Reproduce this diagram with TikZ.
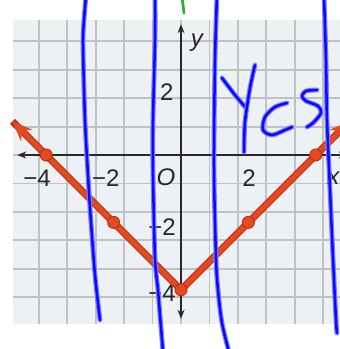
\documentclass[tikz,border=0pt]{standalone}
\usepackage{fontspec}
\setmainfont{Liberation Sans}
\usetikzlibrary{arrows.meta}
\definecolor{gridfill}{RGB}{237,241,244}
\definecolor{gridline}{RGB}{190,194,196}
\definecolor{axiscol}{RGB}{40,40,40}
\definecolor{redline}{RGB}{228,74,34}
\definecolor{reddark}{RGB}{196,48,22}
\definecolor{inkblue}{RGB}{10,10,255}
\definecolor{halo}{RGB}{125,125,255}
\definecolor{inkgreen}{RGB}{40,180,50}
\tikzset{
  bluestroke/.style={preaction={draw=halo,line width=4.8pt,line cap=round,line join=round},
    draw=inkblue,line width=2.5pt,line cap=round,line join=round},
  lbl/.style={inner sep=0pt,font=\fontsize{24}{24}\selectfont,text=black!85},
  ilbl/.style={lbl,font=\fontsize{24}{24}\selectfont\itshape},
  dot/.style={fill=redline,draw=reddark,line width=1pt},
  axisarrow/.style={line width=1.3pt,draw=axiscol,{Stealth[length=9pt,width=7pt]}-{Stealth[length=9pt,width=7pt]}}
}
\begin{document}
\begin{tikzpicture}[x=1pt,y=-1pt]
\useasboundingbox (0,0) rectangle (340,349);
\clip (0,0) rectangle (340,349);
\fill[white] (0,0) rectangle (340,349);
\begin{scope}[shift={(181,155)},x=33.7pt,y=33.7pt]
  \fill[gridfill] (-5,-5) rectangle (5,4);
  \draw[gridline,line width=1.9pt] (-5,-5) grid (5,4);
  % axes
  \coordinate (xl) at (-4.86,0); \coordinate (xr) at (4.95,0);
  \coordinate (yt) at (0,3.88); \coordinate (yb) at (0,-4.86);
  \draw[axisarrow] (xl) -- (xr);
  \draw[axisarrow] (yb) -- (yt);
  % labels
  \node[lbl] (xm4) at (-4.27,-0.68) {−4};
  \node[lbl] (xm2) at (-2.23,-0.68) {−2};
  \node[ilbl] (orig) at (-0.45,-0.65) {O};
  \node[lbl] (xp2) at (2.02,-0.68) {2};
  \node[ilbl] (xlab) at (4.52,-0.68) {x};
  \node[lbl] (yp2) at (-0.42,1.87) {2};
  \node[lbl] (ym2) at (-0.56,-2.14) {−2};
  \node[lbl] (ym4) at (-0.56,-4.09) {−4};
  \node[ilbl] (ylab) at (0.47,3.32) {y};
  % graph y = |x| - 4
  \coordinate (p1) at (-4,0); \coordinate (p2) at (-2,-2); \coordinate (p3) at (0,-4);
  \coordinate (p4) at (2,-2); \coordinate (p5) at (4,0);
  \coordinate (el) at (-5,1); \coordinate (er) at (5,1);
  \draw[reddark,line width=7pt,line join=round] (el) -- (p3) -- (er);
  \draw[redline,line width=4.6pt,line join=round,{Stealth[length=20pt,width=16pt]}-{Stealth[length=20pt,width=16pt]}] (el) -- (p3) -- (er);
  \foreach \p in {p1,p2,p3,p4,p5} \filldraw[dot] (\p) circle (6pt);
\end{scope}
% handwriting
\draw[bluestroke] plot[smooth] coordinates {(86,-4) (84,20) (83,45) (85,120) (88,175) (90,208) (95,275) (100,320)};
\draw[bluestroke] plot[smooth] coordinates {(155,-4) (155,40) (153,120) (153,175) (155,258) (158,290) (160,315) (163,352)};
\draw[bluestroke] plot[smooth] coordinates {(217,-4) (215,60) (214,167) (216,258) (218,290) (222,323) (229,352)};
\draw[bluestroke] plot[smooth] coordinates {(324,-4) (326,60) (327,120) (330,190) (333,258) (336,320) (337,333)};
\draw[bluestroke] plot[smooth] coordinates {(222,78) (235,95) (246,108)};
\draw[bluestroke] plot[smooth] coordinates {(255,65) (250,88) (245,122) (244,152)};
\draw[bluestroke] plot[smooth] coordinates {(287,103) (275,107) (265,117) (263,130) (272,135) (285,130) (292,127)};
\draw[bluestroke] plot[smooth] coordinates {(317,90) (306,91) (302,96) (306,101) (318,106) (321,113) (313,123) (307,127)};
\draw[inkgreen,line width=2.8pt,line cap=round] (182,-3) -- (184,13);
\end{tikzpicture}
\end{document}
